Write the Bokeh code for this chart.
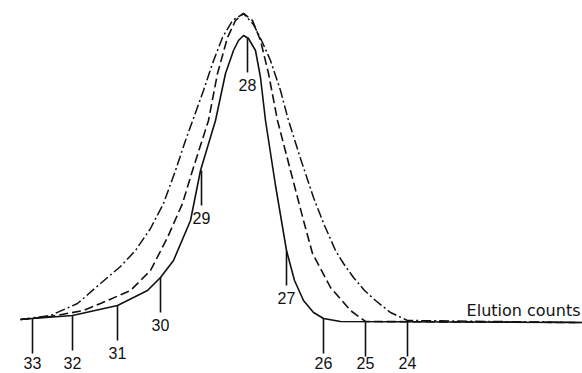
from bokeh.plotting import figure
from bokeh.models import Range1d, ColumnDataSource
from bokeh.core.properties import value
from bokeh.embed import file_html
from bokeh.resources import INLINE

# Position along the chart (arbitrary length units) and detector response (arbitrary units)
solid_x = [20, 32, 72, 117, 147, 160, 173, 190, 200, 215, 225, 233, 238, 243, 248, 255,
           260, 265, 275, 286, 294, 303, 313, 323, 340, 582]
solid_y = [1, 2, 5, 15, 30, 43, 60, 100, 150, 200, 247, 270, 280, 285, 282, 270,
           243, 200, 135, 70, 40, 20, 8, 2, -1, -2]

dashed_x = [20, 50, 83, 100, 130, 150, 167, 182, 192, 208, 217, 227, 235, 243, 252, 260,
            268, 277, 290, 303, 312, 330, 350, 365, 582]
dashed_y = [1, 4, 10, 17, 30, 50, 83, 117, 150, 200, 247, 283, 300, 307, 300, 280,
            247, 200, 150, 100, 67, 33, 10, -1, -2]

dashdot_x = [20, 50, 77, 100, 120, 135, 150, 163, 175, 185, 194, 203, 212, 222, 232, 243,
             253, 262, 270, 280, 288, 300, 313, 324, 335, 343, 353, 364, 375, 390, 407, 582]
dashdot_y = [1, 5, 17, 37, 54, 70, 92, 117, 150, 180, 205, 230, 257, 283, 300, 307,
             296, 278, 260, 230, 200, 162, 123, 95, 70, 57, 43, 30, 20, 8, 0, -2]

# Elution-count markers placed on the solid curve
tick_labels = ["33", "32", "31", "30", "29", "28", "27", "26", "25", "24"]
tick_x = [32, 72, 117, 160, 201, 247, 286, 323, 365, 407]
tick_top = [2, 5, 15, 43, 150, 283, 70, 2, -1, -1]

axis_title = "Elution counts"

TICK_LEN = 35
LABEL_GAP = 12

p = figure(width=582, height=373, output_backend="svg", toolbar_location=None,
           x_range=Range1d(0, 582), y_range=Range1d(-53, 320),
           min_border=0, x_axis_location=None, y_axis_location=None)
p.grid.visible = False
p.outline_line_color = None
p.background_fill_color = "white"
p.border_fill_color = "white"

ink = "#111111"
p.line(solid_x, solid_y, line_color=ink, line_width=1.6)
p.line(dashed_x, dashed_y, line_color=ink, line_width=1.6, line_dash="9 4")
p.line(dashdot_x, dashdot_y, line_color=ink, line_width=1.5, line_dash="10 3 2 3")

tick_bottom = [t - TICK_LEN for t in tick_top]
label_y = [max(b - LABEL_GAP, -42) for b in tick_bottom]
src = ColumnDataSource(dict(x=tick_x, top=tick_top, bottom=tick_bottom,
                            ly=label_y, txt=tick_labels))
p.segment(x0="x", y0="top", x1="x", y1="bottom", source=src, line_color=ink, line_width=1.6)
p.text(x="x", y="ly", text="txt", source=src, text_align="center",
       text_baseline="middle", text_font=value("Liberation Sans"),
       text_font_size="16px", text_color=ink)

p.text(x=[580], y=[10], text=[axis_title], text_align="right", text_baseline="middle",
       text_font=value("DejaVu Sans"), text_font_size="16px", text_color=ink)

open("out.html", "w").write(file_html(p, INLINE))
